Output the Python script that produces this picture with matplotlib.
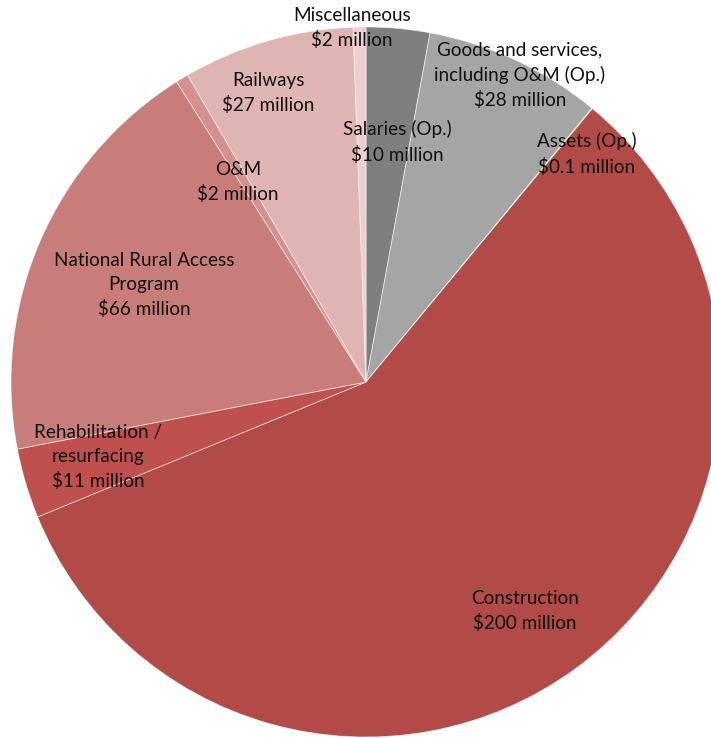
import matplotlib
matplotlib.use("Agg")
import matplotlib.pyplot as plt

# budget breakdown, $ million, clockwise from 12 o'clock
categories = ["Salaries (Op.)", "Goods and services,\nincluding O&M (Op.)", "Assets (Op.)",
              "Construction", "Rehabilitation /\nresurfacing", "National Rural Access\nProgram",
              "O&M", "Railways", "Miscellaneous"]
values = [10, 28, 0.1, 200, 11, 66, 2, 27, 2]
value_labels = ["$10 million", "$28 million", "$0.1 million", "$200 million", "$11 million",
                "$66 million", "$2 million", "$27 million", "$2 million"]
colors = ["#7f7f7f", "#a5a5a5", "#9bbb59", "#b24b48", "#c0504d", "#c97d7b",
          "#d4918f", "#dfb5b4", "#eccfce"]

# label centres in pixels of the 711x738 picture
label_px = [(397, 142), (520, 75), (587, 154), (525, 611), (98, 457),
            (144, 285), (238, 182), (268, 93), (352, 28)]

W, H = 711, 738
cx, cy, R = 366, 382, 355

fig = plt.figure(figsize=(W / 100, H / 100), dpi=100)
ax = fig.add_axes([0, 0, 1, 1])
ax.pie(values, colors=colors, startangle=90, counterclock=False, radius=1,
       wedgeprops=dict(edgecolor=(1, 1, 1, 0.6), linewidth=0.6))
ax.set_xlim(-cx / R, (W - cx) / R)
ax.set_ylim(-(H - cy) / R, cy / R)
ax.set_aspect("equal")
ax.axis("off")

for cat, val, (px, py) in zip(categories, value_labels, label_px):
    ax.text((px - cx) / R, (cy - py) / R, cat + "\n" + val, ha="center", va="center",
            fontsize=13.6, family="Lato", linespacing=1.5, color="#111111")

fig.savefig("out.png", dpi=100)
